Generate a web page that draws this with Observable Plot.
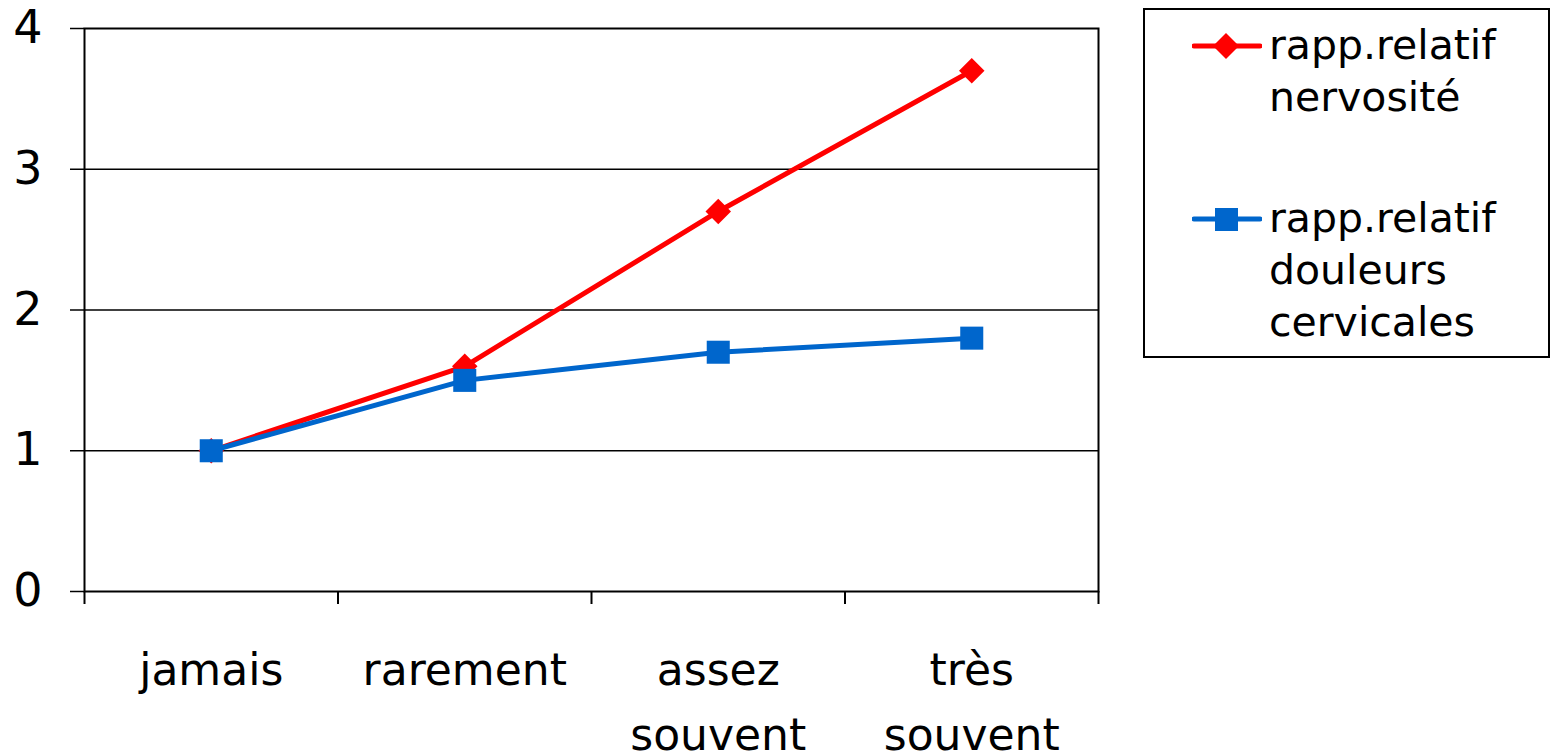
<!DOCTYPE html>
<html>
<head>
<meta charset="utf-8">
<script src="https://cdn.jsdelivr.net/npm/d3@7"></script>
<script src="https://cdn.jsdelivr.net/npm/@observablehq/plot@0.6"></script>
<style>
  html, body { margin: 0; padding: 0; background: #fff; }
  #wrap { position: relative; width: 1551px; height: 753px; overflow: hidden; font-family: "DejaVu Sans", Verdana, sans-serif; }
  #legend { position: absolute; left: 1143px; top: 8px; width: 403px; height: 346px; border: 2px solid #000; background: #fff; }
  .grp { position: absolute; left: 0; }
  .grp svg { position: absolute; left: 47px; top: 0; }
  .grp .txt { position: absolute; left: 124px; top: 0; font-size: 41px; line-height: 52px; color: #000; white-space: nowrap; }
</style>
</head>
<body>
<div id="wrap"></div>
<script>
const categories = ["jamais", "rarement", "assez\nsouvent", "très\nsouvent"];
const nervosite = [1, 1.6, 2.7, 3.7];
const douleurs = [1, 1.5, 1.7, 1.8];
const yTicks = [0, 1, 2, 3, 4];
const seriesNames = ["rapp.relatif\nnervosité", "rapp.relatif\ndouleurs\ncervicales"];
const colors = ["#FF0000", "#0066CC"];

const rows = (vals, s) => vals.map((v, i) => ({i: i + 0.5, v, s}));
const red = rows(nervosite, seriesNames[0]);
const blue = rows(douleurs, seriesNames[1]);
const boundaries = d3.range(categories.length + 1);
const centers = categories.map((c, i) => i + 0.5);

const chart = Plot.plot({
  width: 1551,
  height: 753,
  marginLeft: 84,
  marginRight: 453,
  marginTop: 28,
  marginBottom: 162,
  style: {fontFamily: "DejaVu Sans, Verdana, sans-serif", background: "#fff", color: "#000", overflow: "visible"},
  x: {type: "linear", domain: [0, categories.length]},
  y: {domain: [0, 4]},
  marks: [
    Plot.gridY([1, 2, 3], {stroke: "#000", strokeOpacity: 1, strokeWidth: 1.5}),
    Plot.axisY({ticks: yTicks, tickSize: 14, tickPadding: 28, fontSize: 46, tickFormat: d => String(d), strokeWidth: 1.5, label: null}),
    Plot.axisX({ticks: boundaries, tickSize: 13, tickFormat: () => "", strokeWidth: 2, label: null}),
    Plot.axisX({ticks: centers, tickSize: 0, tickPadding: 47, fontSize: 44, lineHeight: 1.48,
      tickFormat: d => categories[Math.round(d - 0.5)], label: null}),
    Plot.frame({stroke: "#000", strokeWidth: 2}),
    Plot.line(red, {x: "i", y: "v", stroke: colors[0], strokeWidth: 5}),
    Plot.dot(red, {x: "i", y: "v", symbol: "diamond2", r: 11.5, fill: colors[0], stroke: "none"}),
    Plot.line(blue, {x: "i", y: "v", stroke: colors[1], strokeWidth: 5}),
    Plot.dot(blue, {x: "i", y: "v", symbol: "square", r: 13, fill: colors[1], stroke: "none"})
  ]
});
const wrap = document.getElementById("wrap");
wrap.appendChild(chart);

// legend
const legend = document.createElement("div");
legend.id = "legend";
const tops = [9, 182];
const symbols = ["diamond", "square"];
seriesNames.forEach((name, k) => {
  const g = document.createElement("div");
  g.className = "grp";
  g.style.top = tops[k] + "px";
  const sym = symbols[k] === "diamond"
    ? `<path d="M34,14 L47,27 L34,40 L21,27 Z" fill="${colors[k]}"/>`
    : `<rect x="23" y="16" width="23" height="23" fill="${colors[k]}"/>`;
  g.innerHTML = `<svg width="70" height="54"><line x1="2" x2="68" y1="27" y2="27" stroke="${colors[k]}" stroke-width="5" stroke-linecap="round"/>${sym}</svg>` +
    `<div class="txt">${name.split("\n").join("<br>")}</div>`;
  legend.appendChild(g);
});
wrap.appendChild(legend);
</script>
</body>
</html>
